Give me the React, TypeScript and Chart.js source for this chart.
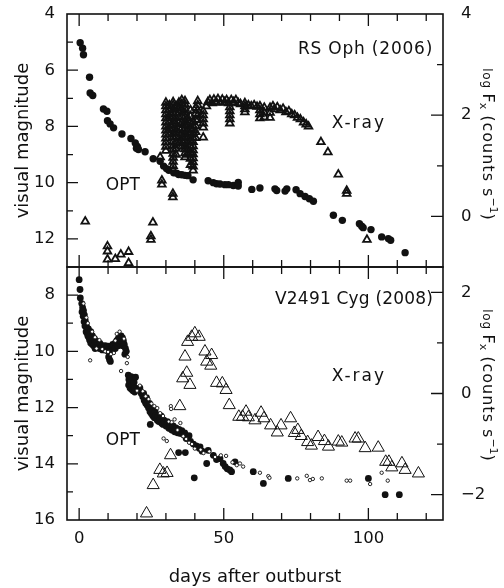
import React, { useEffect, useRef } from "react";
import { Chart, registerables } from "chart.js";

Chart.register(...registerables);

type Pt = [number, number];

const FONT = "'DejaVu Sans', 'Liberation Sans', sans-serif";
const INK = "#111";

// ---------- shared x axis ----------
const DAY_MIN = -4.2;
const DAY_MAX = 125.8;
const dayTicks = [0, 10, 20, 30, 40, 50, 60, 70, 80, 90, 100, 110, 120];
const dayLabels = [0, 50, 100];

// ---------- RS Oph (2006) axes ----------
const rsMagRange: Pt = [4, 13];
const rsMagTicks = [4, 5, 6, 7, 8, 9, 10, 11, 12, 13];
const rsMagLabels = [4, 6, 8, 10, 12];
const rsLogRange: Pt = [-1, 4];
const rsLogTicks = [-1, 0, 1, 2, 3, 4];
const rsLogLabels = [0, 2, 4];

// ---------- V2491 Cyg (2008) axes ----------
const cygMagRange: Pt = [7, 16];
const cygMagTicks = [7, 8, 9, 10, 11, 12, 13, 14, 15, 16];
const cygMagLabels = [8, 10, 12, 14, 16];
const cygLogRange: Pt = [-2.5, 2.5];
const cygLogTicks = [-2, -1, 0, 1, 2];
const cygLogLabels = [-2, 0, 2];

// ---------- RS Oph data: [day, visual mag] ----------
const rsOphOptical: Pt[] = [
  [0.35, 5.02], [1.2, 5.22], [1.5, 5.45], [3.6, 6.25], [3.8, 6.81], [4.7, 6.9],
  [8.4, 7.38], [9.6, 7.46], [9.8, 7.8], [10.7, 7.91], [11.9, 8.05], [14.8, 8.27],
  [17.9, 8.43], [19.4, 8.59], [19.8, 8.78], [20.0, 8.7], [20.2, 8.75], [20.5, 8.82],
  [22.8, 8.9], [25.6, 9.15], [28.0, 9.24], [29.2, 9.41], [30.2, 9.5], [31.0, 9.56],
  [32.7, 9.65], [33.7, 9.66], [34.4, 9.71], [35.5, 9.72], [36.6, 9.74], [37.6, 9.75],
  [39.4, 9.9], [44.6, 9.93], [46.4, 10.0], [47.5, 10.04], [48.7, 10.05], [50.4, 10.07],
  [51.6, 10.07], [53.3, 10.1], [55.0, 9.99], [55.0, 10.12], [59.7, 10.24],
  [62.5, 10.19], [67.7, 10.22], [68.3, 10.28], [71.2, 10.3], [71.8, 10.22], [75.0, 10.25],
  [76.4, 10.39], [78.1, 10.49], [79.6, 10.57], [81.0, 10.66], [87.9, 11.16], [91.0, 11.34],
  [96.9, 11.46], [97.7, 11.55], [98.2, 11.6], [100.9, 11.67], [104.6, 11.93], [106.9, 11.99],
  [107.7, 12.05], [112.7, 12.49],
];

// ---------- RS Oph data: [day, log Fx] ----------
const rsOphXray: Pt[] = [
  [2.1, -0.1], [9.8, -0.59], [9.8, -0.69], [9.8, -0.85], [12.5, -0.84], [14.4, -0.75],
  [17.1, -0.7], [17.1, -0.92], [24.8, -0.39], [24.8, -0.46], [25.5, -0.12], [28.0, 1.17],
  [28.6, 0.71], [28.6, 0.63], [32.4, 0.45], [32.4, 0.38],
  [30.0, 1.3], [30.0, 1.38], [30.0, 1.46], [30.0, 1.54], [30.0, 1.62], [30.0, 1.7], [30.0, 1.78],
  [30.0, 1.86], [30.0, 1.94], [30.0, 2.02], [30.0, 2.1], [30.0, 2.18], [30.0, 2.25],
  [31.2, 1.62], [31.2, 1.74], [31.2, 1.86], [31.2, 1.98], [31.2, 2.1], [31.2, 2.2],
  [32.5, 0.92], [32.5, 1.0], [32.5, 1.08], [32.5, 1.16], [32.5, 1.24], [32.5, 1.32], [32.5, 1.4],
  [32.5, 1.48], [32.5, 1.56], [32.5, 1.64], [32.5, 1.72], [32.5, 1.8], [32.5, 1.88], [32.5, 1.96],
  [32.5, 2.04], [32.5, 2.12], [32.5, 2.2], [32.5, 2.26],
  [33.5, 1.22], [33.5, 1.34], [33.5, 1.46], [33.5, 1.58], [33.5, 1.7], [33.5, 1.82], [33.5, 1.94],
  [33.5, 2.06], [33.5, 2.18],
  [34.5, 1.45], [34.5, 1.55], [34.5, 1.65], [34.5, 1.75], [34.5, 1.85], [34.5, 1.95], [34.5, 2.05],
  [34.5, 2.15], [34.5, 2.25],
  [35.5, 1.38], [35.5, 1.5], [35.5, 1.62], [35.5, 1.74], [35.5, 1.86], [35.5, 1.98], [35.5, 2.1],
  [35.5, 2.22], [35.5, 2.3],
  [36.6, 1.17], [36.6, 1.25], [36.6, 1.33], [36.6, 1.41], [36.6, 1.49], [36.6, 1.57], [36.6, 1.65],
  [36.6, 1.73], [36.6, 1.81], [36.6, 1.89], [36.6, 1.97], [36.6, 2.05], [36.6, 2.13], [36.6, 2.21],
  [36.6, 2.28],
  [37.5, 1.22], [37.5, 1.34], [37.5, 1.46], [37.5, 1.58], [37.5, 1.7], [37.5, 1.82], [37.5, 1.94],
  [38.5, 1.02], [38.5, 1.14], [38.5, 1.26], [38.5, 1.38], [38.5, 1.5], [38.5, 1.62], [38.5, 1.74],
  [38.5, 1.86], [38.5, 1.98], [38.5, 2.1],
  [39.4, 0.91], [39.4, 0.99], [39.4, 1.07], [39.4, 1.15], [39.4, 1.23], [39.4, 1.31], [39.4, 1.39],
  [39.4, 1.47], [39.4, 1.55], [39.4, 1.63], [39.4, 1.71], [39.4, 1.79], [39.4, 1.87],
  [40.3, 1.55], [40.3, 1.67], [40.3, 1.79], [40.3, 1.91], [40.3, 2.03], [40.3, 2.15],
  [41.0, 1.9], [41.0, 2.0], [41.0, 2.1], [41.0, 2.2], [41.0, 2.28],
  [42.9, 1.56], [42.9, 1.76], [42.9, 1.84], [42.9, 1.92], [42.9, 2.0], [42.9, 2.08],
  [44.0, 2.18], [44.5, 2.26], [45.2, 2.3], [46.0, 2.24], [46.6, 2.31], [47.4, 2.26], [48.0, 2.32],
  [48.8, 2.25], [49.5, 2.31], [50.3, 2.26], [51.0, 2.3], [51.7, 2.24], [52.1, 1.84], [52.1, 1.92],
  [52.1, 2.0], [52.1, 2.08], [52.1, 2.16], [52.6, 2.3], [53.4, 2.26], [54.2, 2.3], [55.0, 2.24],
  [55.8, 2.22], [57.3, 2.06], [57.3, 2.12], [57.3, 2.18], [57.3, 2.24], [58.5, 2.2], [59.5, 2.18],
  [60.5, 2.2], [61.5, 2.17], [62.5, 1.94], [62.5, 2.02], [62.5, 2.1], [62.5, 2.18], [64.0, 1.96],
  [64.0, 2.05], [64.0, 2.15], [66.0, 1.95], [66.0, 2.05], [66.0, 2.15], [67.0, 2.18], [67.5, 2.12],
  [68.5, 2.16], [69.5, 2.1], [70.5, 2.13], [71.5, 2.06], [72.5, 2.08], [73.5, 2.02], [74.5, 2.0],
  [75.5, 1.95], [76.5, 1.92], [77.6, 1.86], [78.5, 1.82], [79.3, 1.78],
  [83.6, 1.47], [86.0, 1.27], [89.6, 0.83], [92.5, 0.51], [92.5, 0.45], [99.5, -0.46],
];

// ---------- V2491 Cyg data: [day, visual mag] (large filled symbols) ----------
const cygOpticalFilled: Pt[] = [
  [0.0, 7.45], [0.3, 7.8], [0.4, 8.1], [0.9, 8.3], [1.0, 8.6], [1.2, 8.45], [1.4, 8.75],
  [1.5, 8.55], [1.7, 8.95], [1.8, 8.7], [2.0, 9.1], [2.1, 8.9], [2.3, 9.02], [2.4, 9.3],
  [2.5, 9.1], [2.7, 9.35], [2.8, 9.18], [3.0, 9.25], [3.0, 9.45], [3.2, 9.2], [3.3, 9.5],
  [3.5, 9.35], [3.6, 9.6], [3.8, 9.42], [4.0, 9.3], [4.0, 9.7], [4.3, 9.5], [4.5, 9.75],
  [4.6, 9.45], [5.0, 9.6], [5.0, 9.8], [5.3, 9.55], [5.5, 9.9], [5.6, 9.7], [6.0, 9.65],
  [6.0, 9.85], [6.4, 9.76], [6.8, 9.8], [7.0, 9.9], [7.2, 9.72], [7.6, 9.85], [8.0, 9.8],
  [8.0, 9.95], [8.5, 9.86], [9.0, 9.8], [9.0, 9.95], [9.5, 9.88], [10.0, 9.82], [10.0, 10.0],
  [10.2, 10.2], [10.5, 10.3], [10.8, 10.36], [11.2, 9.82], [11.5, 10.0], [11.6, 9.75],
  [12.0, 9.8], [12.5, 9.7], [12.5, 9.9], [13.0, 9.62], [13.5, 9.55], [13.5, 9.8], [14.0, 9.5],
  [14.0, 9.7], [14.5, 9.45], [14.5, 9.65], [15.0, 9.52], [15.0, 9.8], [15.3, 9.62], [15.6, 9.75],
  [15.8, 10.1], [16.0, 9.9], [16.3, 10.0],
  [17.0, 10.85], [17.1, 11.2], [17.2, 11.0], [17.4, 11.15], [17.5, 10.95], [17.6, 11.3],
  [17.8, 11.05], [18.0, 10.9], [18.1, 11.35], [18.3, 11.2], [18.6, 11.4], [18.8, 11.25],
  [19.0, 11.1], [19.2, 11.45], [19.3, 11.3], [19.5, 10.92],
  [21.0, 11.3], [21.5, 11.5], [22.0, 11.62], [22.3, 11.5], [22.5, 11.75], [23.0, 11.85],
  [23.3, 11.65], [23.5, 11.92], [24.0, 12.02], [24.3, 11.85], [24.5, 12.15], [24.6, 12.6],
  [25.0, 12.22], [25.3, 12.05], [25.5, 12.3], [26.0, 12.36], [26.3, 12.15], [26.5, 12.28],
  [27.0, 12.45], [27.3, 12.3], [27.5, 12.5], [28.0, 12.4], [28.3, 12.3], [28.5, 12.56],
  [29.0, 12.6], [29.3, 12.45], [29.5, 12.55], [30.0, 12.66], [30.5, 12.5], [31.0, 12.74],
  [31.5, 12.6], [32.0, 12.8], [32.5, 12.65], [33.0, 12.86], [33.5, 12.72], [34.0, 12.9],
  [34.4, 13.6], [34.5, 12.78], [35.0, 12.92], [35.5, 12.82], [36.0, 12.96], [36.5, 12.9],
  [36.7, 13.6], [37.0, 13.1], [38.0, 13.0], [38.5, 13.2], [39.5, 13.3],
  [39.8, 14.5], [40.5, 13.36], [41.5, 13.45], [41.8, 13.4], [42.5, 13.55], [44.1, 13.99],
  [44.6, 13.52], [46.4, 13.7], [47.5, 13.85], [48.7, 13.82], [49.8, 13.99], [50.5, 14.1],
  [51.2, 14.18], [52.1, 14.22], [52.7, 14.28], [53.9, 13.93], [60.2, 14.28], [63.7, 14.7],
  [72.3, 14.52], [100.0, 14.52], [105.8, 15.1], [110.7, 15.1],
];

// ---------- V2491 Cyg data: [day, visual mag] (small open symbols) ----------
const cygOpticalSmall: Pt[] = [
  [1.5, 8.3], [2.5, 8.8], [3.0, 9.0], [3.8, 10.32], [4.5, 9.3], [5.5, 9.5], [6.0, 9.9],
  [7.0, 9.6], [8.0, 9.92], [9.0, 10.0], [10.0, 10.02], [11.0, 10.1], [12.0, 10.06], [12.5, 9.62],
  [13.0, 9.38], [14.0, 9.3], [14.5, 10.7], [15.5, 9.55], [16.5, 10.42], [16.8, 10.2], [20.0, 11.4],
  [21.0, 11.22], [22.0, 11.42], [23.0, 11.6], [24.0, 11.7], [25.0, 11.86], [26.0, 11.95],
  [27.0, 12.02], [28.0, 12.2], [29.0, 12.3], [29.2, 13.1], [30.3, 13.19], [31.0, 12.5],
  [31.7, 11.95], [31.8, 12.05], [32.0, 12.52], [33.0, 12.42], [34.0, 12.8], [35.0, 12.55],
  [36.0, 13.02], [37.0, 13.12], [38.0, 13.25], [39.0, 13.3], [40.0, 13.46], [42.0, 13.5],
  [43.0, 13.62], [45.0, 13.56], [47.0, 13.76], [49.0, 13.7], [50.8, 13.72], [53.0, 13.95],
  [54.5, 14.05], [55.6, 13.99], [56.7, 14.1], [62.5, 14.32], [65.4, 14.44], [65.8, 14.5],
  [75.4, 14.52], [78.7, 14.43], [79.8, 14.58], [80.8, 14.54], [83.9, 14.52], [92.5, 14.6],
  [93.7, 14.6], [100.6, 14.72], [104.6, 14.32], [106.7, 14.6],
];

// ---------- V2491 Cyg data: [day, log Fx] ----------
const cygXray: Pt[] = [
  [23.3, -2.37], [25.6, -1.81], [27.9, -1.51], [29.1, -1.58], [30.4, -1.57], [31.6, -1.22],
  [34.8, -0.25], [35.8, 0.3], [36.6, 0.73], [37.2, 0.41], [38.3, 0.17], [37.5, 1.02],
  [38.9, 1.12], [40.0, 1.19], [41.5, 1.12], [43.5, 0.83], [44.1, 0.63], [45.5, 0.55],
  [45.8, 0.76], [47.5, 0.21], [49.5, 0.2], [50.8, 0.07], [51.9, -0.23], [55.2, -0.46],
  [56.5, -0.46], [57.7, -0.36], [58.5, -0.47], [60.8, -0.53], [62.9, -0.38], [63.9, -0.49],
  [66.2, -0.63], [68.5, -0.77], [69.8, -0.63], [73.1, -0.49], [74.4, -0.78], [75.6, -0.72],
  [76.8, -0.84], [79.0, -0.96], [80.3, -1.03], [82.6, -0.86], [84.8, -0.94], [86.2, -1.05],
  [89.6, -0.95], [90.8, -0.97], [95.4, -0.89], [96.5, -0.89], [98.9, -1.08], [103.4, -1.07],
  [106.0, -1.35], [107.1, -1.35], [108.1, -1.46], [111.6, -1.38], [112.7, -1.51], [117.3, -1.58],
];

// ---------- labels ----------
const rsTitle = "RS Oph (2006)";
const cygTitle = "V2491 Cyg (2008)";
const xrayLabel = "X-ray";
const optLabel = "OPT";
const leftTitle = "visual magnitude";
const bottomTitle = "days after outburst";

interface Note { text: string; day: number; mag: number; align: CanvasTextAlign; size: number; spacing: number; }

interface Panel {
  magRange: Pt; magTicks: number[]; magLabels: number[];
  logRange: Pt; logTicks: number[]; logLabels: number[];
  notes: Note[];
  rightTitleShift: number;
  showX: boolean;
  datasets: any[];
}

const toXY = (pts: Pt[]) => pts.map(([x, y]) => ({ x, y }));

const topPanel: Panel = {
  magRange: rsMagRange, magTicks: rsMagTicks, magLabels: rsMagLabels,
  logRange: rsLogRange, logTicks: rsLogTicks, logLabels: rsLogLabels,
  notes: [
    { text: rsTitle, day: 122.4, mag: 5.28, align: "right", size: 17, spacing: 0.8 },
    { text: xrayLabel, day: 87.3, mag: 7.9, align: "left", size: 17, spacing: 2 },
    { text: optLabel, day: 9.2, mag: 10.1, align: "left", size: 17, spacing: 0 },
  ],
  rightTitleShift: 3.5,
  showX: false,
  datasets: [
    {
      label: "RS Oph optical", data: toXY(rsOphOptical), yAxisID: "yL", order: 2,
      pointStyle: "circle", pointRadius: 3.7, backgroundColor: INK, borderColor: INK, borderWidth: 0,
    },
    {
      label: "RS Oph X-ray", data: toXY(rsOphXray), yAxisID: "yR", order: 1,
      pointStyle: "triangle", pointRadius: 4.4, backgroundColor: "rgba(0,0,0,0)", borderColor: INK, borderWidth: 1.8,
    },
  ],
};

const bottomPanel: Panel = {
  magRange: cygMagRange, magTicks: cygMagTicks, magLabels: cygMagLabels,
  logRange: cygLogRange, logTicks: cygLogTicks, logLabels: cygLogLabels,
  notes: [
    { text: cygTitle, day: 122.4, mag: 8.17, align: "right", size: 17, spacing: 0.2 },
    { text: xrayLabel, day: 87.3, mag: 10.9, align: "left", size: 17, spacing: 2 },
    { text: optLabel, day: 9.2, mag: 13.16, align: "left", size: 17, spacing: 0 },
  ],
  rightTitleShift: -8.5,
  showX: true,
  datasets: [
    {
      label: "V2491 Cyg optical", data: toXY(cygOpticalFilled), yAxisID: "yL", order: 3,
      pointStyle: "circle", pointRadius: 3.4, backgroundColor: INK, borderColor: INK, borderWidth: 0,
    },
    {
      label: "V2491 Cyg optical (small)", data: toXY(cygOpticalSmall), yAxisID: "yL", order: 2,
      pointStyle: "circle", pointRadius: 1.7, backgroundColor: "#fff", borderColor: INK, borderWidth: 0.9,
    },
    {
      label: "V2491 Cyg X-ray", data: toXY(cygXray), yAxisID: "yR", order: 1,
      pointStyle: "triangle", pointRadius: 7, backgroundColor: "rgba(0,0,0,0)", borderColor: INK, borderWidth: 1,
    },
  ],
};

const fmtMinus = (v: number) => (v < 0 ? "\u2212" + Math.abs(v) : String(v));

function setSpacing(ctx: CanvasRenderingContext2D, px: number) {
  (ctx as any).letterSpacing = px + "px";
}

function makeDecor(panel: Panel) {
  return {
    id: "panelDecor",
    afterDatasetsDraw(chart: any) {
      const { ctx, chartArea: a, scales } = chart;
      const xs = scales.x, yl = scales.yL, yr = scales.yR;
      ctx.save();
      ctx.strokeStyle = INK;
      ctx.lineWidth = 1.6;
      ctx.strokeRect(a.left, a.top, a.right - a.left, a.bottom - a.top);
      ctx.lineWidth = 1.3;
      ctx.beginPath();
      for (const d of dayTicks) {
        const px = xs.getPixelForValue(d);
        const len = dayLabels.includes(d) ? 12 : 7;
        ctx.moveTo(px, a.top); ctx.lineTo(px, a.top + len);
        ctx.moveTo(px, a.bottom); ctx.lineTo(px, a.bottom - len);
      }
      for (const m of panel.magTicks) {
        const py = yl.getPixelForValue(m);
        if (py <= a.top + 0.5 || py >= a.bottom - 0.5) continue;
        const len = panel.magLabels.includes(m) ? 11 : 6;
        ctx.moveTo(a.left, py); ctx.lineTo(a.left + len, py);
      }
      for (const v of panel.logTicks) {
        const py = yr.getPixelForValue(v);
        if (py <= a.top + 0.5 || py >= a.bottom - 0.5) continue;
        const len = panel.logLabels.includes(v) ? 12 : 6;
        ctx.moveTo(a.right, py); ctx.lineTo(a.right - len, py);
      }
      ctx.stroke();

      // annotations
      ctx.fillStyle = INK;
      ctx.textBaseline = "middle";
      for (const n of panel.notes) {
        ctx.font = `${n.size}px ${FONT}`;
        setSpacing(ctx, n.spacing);
        ctx.textAlign = n.align;
        ctx.fillText(n.text, xs.getPixelForValue(n.day), yl.getPixelForValue(n.mag));
      }
      setSpacing(ctx, 0);

      // left title
      const cy = (a.top + a.bottom) / 2;
      ctx.save();
      ctx.translate(23, cy);
      ctx.rotate(-Math.PI / 2);
      ctx.font = `18px ${FONT}`;
      ctx.textAlign = "center";
      ctx.textBaseline = "middle";
      ctx.fillText(leftTitle, 0, 0);
      ctx.restore();

      // right title: log F_x (counts s^-1)
      const pieces = [
        { t: "log ", size: 12, dy: 0, sp: 0.8 },
        { t: "F", size: 16, dy: 0, sp: 0 },
        { t: "x", size: 11, dy: 3, sp: 0 },
        { t: " (counts s", size: 16, dy: 0, sp: 1 },
        { t: "\u22121", size: 11, dy: -7, sp: 0 },
        { t: ")", size: 16, dy: 0, sp: 0 },
      ];
      ctx.save();
      ctx.translate(488, cy + panel.rightTitleShift);
      ctx.rotate(Math.PI / 2);
      ctx.textAlign = "left";
      ctx.textBaseline = "alphabetic";
      let total = 0;
      const widths: number[] = [];
      for (const p of pieces) {
        ctx.font = `${p.size}px ${FONT}`;
        setSpacing(ctx, p.sp);
        const w = ctx.measureText(p.t).width;
        widths.push(w);
        total += w;
      }
      let x = -total / 2;
      pieces.forEach((p, i) => {
        ctx.font = `${p.size}px ${FONT}`;
        setSpacing(ctx, p.sp);
        ctx.fillText(p.t, x, 5.5 + p.dy);
        x += widths[i];
      });
      setSpacing(ctx, 0);
      ctx.restore();

      if (panel.showX) {
        ctx.font = `18px ${FONT}`;
        ctx.textAlign = "center";
        ctx.textBaseline = "middle";
        ctx.fillText(bottomTitle, (a.left + a.right) / 2, a.bottom + 57);
      }
      ctx.restore();
    },
  };
}

function buildConfig(panel: Panel, padTop: number, padBottom: number): any {
  const tickFont = { family: FONT, size: 16.5 };
  return {
    type: "scatter",
    data: { datasets: panel.datasets },
    options: {
      animation: false,
      responsive: false,
      events: [],
      layout: { padding: { top: padTop, bottom: padBottom, left: 0, right: 0 } },
      plugins: { legend: { display: false }, tooltip: { enabled: false } },
      scales: {
        x: {
          type: "linear", position: "bottom", min: DAY_MIN, max: DAY_MAX,
          display: panel.showX,
          grid: { display: false, drawTicks: false },
          border: { display: false },
          afterBuildTicks: (s: any) => { s.ticks = dayLabels.map((v) => ({ value: v })); },
          afterFit: (s: any) => { s.height = panel.showX ? 68 : 0; },
          ticks: { font: tickFont, color: INK, padding: 9, maxRotation: 0 },
        },
        yL: {
          type: "linear", position: "left", reverse: true,
          min: panel.magRange[0], max: panel.magRange[1],
          grid: { display: false, drawTicks: false },
          border: { display: false },
          afterBuildTicks: (s: any) => { s.ticks = panel.magLabels.map((v) => ({ value: v })); },
          afterFit: (s: any) => { s.width = 67; },
          ticks: { font: tickFont, color: INK, padding: 12 },
        },
        yR: {
          type: "linear", position: "right",
          min: panel.logRange[0], max: panel.logRange[1],
          grid: { display: false, drawTicks: false },
          border: { display: false },
          afterBuildTicks: (s: any) => { s.ticks = panel.logLabels.map((v) => ({ value: v })); },
          afterFit: (s: any) => { s.width = 61; },
          ticks: { font: tickFont, color: INK, padding: 18, callback: (v: any) => fmtMinus(Number(v)) },
        },
      },
    },
    plugins: [makeDecor(panel)],
  };
}

function PanelChart(props: { panel: Panel; top: number; height: number; padTop: number; padBottom: number }) {
  const ref = useRef<HTMLCanvasElement>(null);
  useEffect(() => {
    const chart = new Chart(ref.current as HTMLCanvasElement, buildConfig(props.panel, props.padTop, props.padBottom));
    return () => chart.destroy();
  }, []);
  return (
    <canvas
      ref={ref}
      width={504}
      height={props.height}
      style={{ position: "absolute", left: 0, top: props.top, width: 504, height: props.height }}
    />
  );
}

// Panel frames: top panel spans page y 14..267, bottom panel 267..520.
export default function App() {
  return (
    <div style={{ position: "absolute", left: 0, top: 0, width: 504, height: 588, background: "#fff", overflow: "hidden" }}>
      <PanelChart panel={bottomPanel} top={233} height={355} padTop={34} padBottom={0} />
      <PanelChart panel={topPanel} top={-20} height={337} padTop={34} padBottom={50} />
    </div>
  );
}
